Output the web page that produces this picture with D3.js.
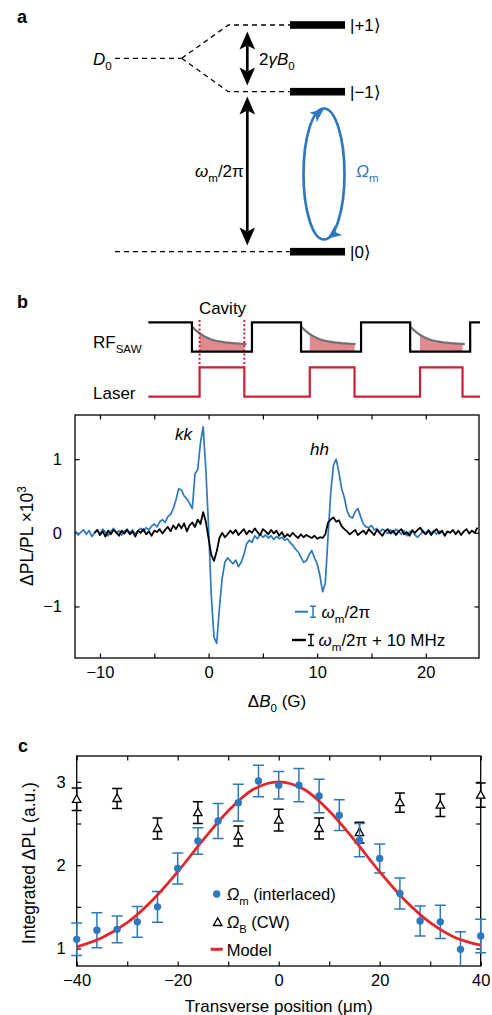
<!DOCTYPE html>
<html><head><meta charset="utf-8">
<script src="https://cdn.jsdelivr.net/npm/d3@7"></script>
<style>body{margin:0;background:#fff} svg{display:block;font-family:"Liberation Sans",Arial,Helvetica,sans-serif}</style>
</head><body>
<svg id="fig" width="492" height="1015"></svg>
<script>
// ================= DATA =================
// Panel b: ΔPL/PL ×10^3 vs ΔB0 (G), sampled on a regular field grid
const bBlueStart = -12.25, bBlueStep = 0.25;
const bBlue = [
 0.02,-0.03,0.01,0.04, -0.02,0.03,-0.05,0.00, 0.04,-0.02,0.05,0.01, -0.04,0.02,0.06,-0.01,
 0.03,-0.03,0.02,0.05, 0.00,0.04,-0.02,0.03, 0.06,0.02,0.07,0.04, 0.09,0.12,0.08,0.15,
 0.18,0.14,0.22,0.25, 0.33,0.45,0.60,0.58, 0.50,0.46,0.40,0.33, 0.80,0.86,1.22,1.44,
 0.85,0.08,-0.85,-1.42, -1.50,-1.02,-0.62,-0.40, -0.34,-0.38,-0.42,-0.37, -0.46,-0.40,-0.30,-0.15,
 -0.10,-0.13,-0.04,-0.08, -0.02,-0.06,-0.03,-0.07, -0.04,-0.09,-0.05,-0.08, -0.06,-0.10,-0.08,-0.13,
 -0.17,-0.22,-0.26,-0.33, -0.40,-0.38,-0.30,-0.24, -0.34,-0.42,-0.58,-0.80, -0.68,-0.05,0.55,0.92,
 1.00,0.82,0.60,0.48, 0.30,0.22,0.20,0.29, 0.33,0.22,0.12,0.08, 0.07,0.10,0.04,0.06,
 0.01,0.05,0.03,-0.01, 0.04,0.00,0.05,0.02, -0.02,0.03,-0.04,0.01, 0.04,-0.03,-0.06,-0.02,
 0.03,-0.01,0.04,0.00, 0.03,-0.02,0.02,0.01
];
const bBlackStart = -10.5, bBlackStep = 0.25;
const bBlack = [
 0.00,0.04,-0.03,0.02, -0.05,0.03,-0.02,0.04, 0.01,-0.04,0.03,-0.01, 0.04,-0.02,0.02,-0.05,
 0.03,0.00,0.05,-0.02, 0.02,-0.04,0.03,0.01, 0.05,-0.01,0.04,0.08, 0.02,0.10,0.05,0.12,
 0.06,0.13,0.02,0.10, 0.14,0.08,0.18,0.12, 0.28,0.15,-0.08,-0.30, -0.38,-0.25,-0.07,0.00,
 -0.06,-0.02,0.03,-0.01, 0.04,-0.03,0.01,0.05, -0.02,0.03,0.00,0.06, 0.01,-0.03,0.05,0.02,
 -0.02,0.04,-0.01,0.03, -0.04,0.01,-0.06,-0.02, -0.05,0.00,-0.04,-0.07, -0.02,-0.06,-0.03,-0.05,
 -0.07,-0.04,-0.08,-0.06, -0.07,-0.02,0.14,0.18, 0.21,0.15,0.17,0.09, 0.05,0.02,-0.02,0.01,
 0.04,-0.03,0.00,0.03, -0.02,0.05,0.01,-0.03, 0.04,0.00,-0.04,0.02, 0.05,-0.01,0.03,-0.03,
 0.02,0.05,-0.02,0.01, -0.04,0.03,0.00,0.04, 0.07,0.01,-0.02,0.03, -0.03,0.02,0.05,-0.01,
 0.03,-0.04,0.02,0.00, 0.04,-0.02,0.03,-0.03, 0.02,0.05,-0.01,0.03, 0.00,0.07
];
const bXTicks = [-10,-5,0,5,10,15,20];
const bYTicks = [-1,0,1];

// Panel c: integrated ΔPL (a.u.) vs transverse position (µm)
const cPos      = [-40,-36,-32,-28,-24,-20,-16,-12,-8,-4,0,4,8,12,16,20,24,28,32,36,40];
const cOmegaM   = [1.11,1.22,1.23,1.32,1.50,1.96,2.29,2.53,2.75,3.01,2.96,2.96,2.83,2.60,2.30,2.08,1.66,1.33,1.32,0.99,1.15];
const cOmegaMEr = [0.195,0.21,0.16,0.185,0.185,0.185,0.16,0.21,0.22,0.19,0.165,0.20,0.20,0.185,0.20,0.175,0.185,0.18,0.20,0.21,0.20];
const cTriPos   = [-40,-32,-24,-16,-8,0,8,16,24,32,40];
const cOmegaB   = [2.79,2.80,2.44,2.63,2.35,2.54,2.44,2.39,2.75,2.72,2.84];
const cOmegaBEr = [0.135,0.12,0.125,0.13,0.12,0.13,0.125,0.125,0.115,0.135,0.145];
const cModelPos = [-40,-35,-30,-25,-20,-15,-10,-5,0,5,10,15,20,25,30,35,40];
const cModel    = [1.02,1.13,1.31,1.58,1.92,2.30,2.65,2.91,3.00,2.91,2.65,2.30,1.92,1.58,1.31,1.13,1.04];
const cXTicks = [-40,-30,-20,-10,0,10,20,30,40];
const cYTicks = [1,1.5,2,2.5,3];

// Panel b timing schematic (arbitrary time units)
const rfTimes   = [0,4,9.5,14,19.5,24,29.5,30.4];
const rfLevels  = [1,0,1,0,1,0,1,1];
const lsTimes   = [0,4.7,8.8,14.8,18.9,24.9,28.8,30.4];
const lsLevels  = [0,1,0,1,0,1,0,0];
const cavityDrops = [4,14,24];
const decayStep = 0.5;
const cavityDecay = [0.86,0.68,0.55,0.46,0.39,0.35,0.32,0.30,0.28,0.27,0.26];
const laserWindows = [[4.7,8.8],[14.8,18.9],[24.9,28.8]];

// ================= DRAW =================
const svg = d3.select("#fig");
const BLUE = "#2e78bd", RED = "#cc1f36", MRED = "#e3262b", PINK = "#e0898f", GRAY = "#717171";
svg.append("rect").attr("width",492).attr("height",1015).attr("fill","#fff");

function rich(sel, parts, size){
  let shift = 0;
  parts.forEach(p=>{
    const ts = sel.append("tspan").text(p.t);
    const target = p.sub ? size*0.32 : (p.sup ? -size*0.4 : 0);
    if (target !== shift) { ts.attr("dy", target - shift); shift = target; }
    if (p.it) ts.attr("font-style","italic");
    if (p.sub || p.sup) ts.attr("font-size", size*0.68);
  });
  return sel;
}
function label(x,y,size,parts,opts={}){
  const t = svg.append("text").attr("x",x).attr("y",y).attr("font-size",size).attr("fill",opts.fill||"#000");
  if (opts.anchor) t.attr("text-anchor",opts.anchor);
  if (opts.weight) t.attr("font-weight",opts.weight);
  if (opts.transform) t.attr("transform",opts.transform).attr("x",0).attr("y",0);
  return rich(t, parts, size);
}

// ---------- Panel a ----------
label(17,23,18,[{t:"a"}],{weight:"bold"});
const dash = svg.append("g").attr("fill","none").attr("stroke","#000").attr("stroke-width",1.3).attr("stroke-dasharray","5,4");
dash.append("path").attr("d","M115,58.3H181.7");
dash.append("path").attr("d","M181.7,58.3L228.3,25H290");
dash.append("path").attr("d","M181.7,58.3L228.3,91.7H290");
dash.append("path").attr("d","M115,251.7H290");
[25,91.7,251.7].forEach(y=>svg.append("rect").attr("x",290).attr("y",y-3.8).attr("width",55).attr("height",7.6).attr("fill","#000"));
label(350,31,17,[{t:"|+1⟩"}]);
label(350,97.5,17,[{t:"|−1⟩"}]);
label(350,257.5,17,[{t:"|0⟩"}]);
label(93,64.5,17,[{t:"D",it:true},{t:"0",sub:true}]);
label(259,65,17,[{t:"2"},{t:"γ",it:true},{t:"B",it:true},{t:"0",sub:true}]);
label(195,176.5,17,[{t:"ω",it:true},{t:"m",sub:true},{t:"/2π"}]);
label(356,176.5,17,[{t:"Ω",it:true},{t:"m",sub:true}],{fill:BLUE});

function dArrow(x,y1,y2){
  const hl=18, hw=7.8, n=4;
  svg.append("line").attr("x1",x).attr("x2",x).attr("y1",y1+hl-n).attr("y2",y2-hl+n).attr("stroke","#000").attr("stroke-width",2.7);
  svg.append("path").attr("d",`M${x},${y1}L${x-hw},${y1+hl}L${x},${y1+hl-n}L${x+hw},${y1+hl}Z`).attr("fill","#000");
  svg.append("path").attr("d",`M${x},${y2}L${x-hw},${y2-hl}L${x},${y2-hl+n}L${x+hw},${y2-hl}Z`).attr("fill","#000");
}
dArrow(247.3,31.5,85.5);
dArrow(247.3,96.5,245.5);
svg.append("ellipse").attr("cx",324).attr("cy",174).attr("rx",20.5).attr("ry",65.5).attr("fill","none").attr("stroke",BLUE).attr("stroke-width",2.7);
function head(x,y,ang,col){
  svg.append("path").attr("d","M0,0L-14,-6L-10.5,0L-14,6Z").attr("fill",col)
    .attr("transform",`translate(${x},${y}) rotate(${ang})`);
}
head(324,108.8,-38,BLUE);
head(327.5,238.8,142,BLUE);

// ---------- Panel b: timing ----------
label(17,308,18,[{t:"b"}],{weight:"bold"});
const ts = d3.scaleLinear([0,30.4],[148.3,480]);
const rfY = d3.scaleLinear([0,1],[351.7,322.3]);
const lsY = d3.scaleLinear([0,1],[396.7,367.3]);
const clipW = svg.append("defs");
laserWindows.forEach((w,i)=>{
  clipW.append("clipPath").attr("id","lw"+i).append("rect")
    .attr("x",ts(w[0])).attr("width",ts(w[1])-ts(w[0])).attr("y",300).attr("height",60);
});
cavityDrops.forEach((t0,i)=>{
  const pts = cavityDecay.map((v,k)=>[t0+k*decayStep, v]);
  svg.append("path").datum(pts).attr("clip-path",`url(#lw${i})`).attr("fill",PINK)
    .attr("d",d3.area().x(d=>ts(d[0])).y0(rfY(0)).y1(d=>rfY(d[1])).curve(d3.curveMonotoneX));
  svg.append("path").datum(pts).attr("fill","none").attr("stroke",GRAY).attr("stroke-width",2.2)
    .attr("d",d3.line().x(d=>ts(d[0])).y(d=>rfY(d[1])).curve(d3.curveMonotoneX));
});
laserWindows.slice(0,1).forEach(w=>{
  [w[0],w[1]].forEach(t=>svg.append("line").attr("x1",ts(t)).attr("x2",ts(t)).attr("y1",320).attr("y2",lsY(1))
    .attr("stroke",RED).attr("stroke-width",2).attr("stroke-dasharray","2,2.2"));
});
svg.append("path").datum(rfTimes.map((t,i)=>[t,rfLevels[i]])).attr("fill","none").attr("stroke","#000").attr("stroke-width",2.2)
  .attr("d",d3.line().x(d=>ts(d[0])).y(d=>rfY(d[1])).curve(d3.curveStepAfter));
svg.append("path").datum(lsTimes.map((t,i)=>[t,lsLevels[i]])).attr("fill","none").attr("stroke",RED).attr("stroke-width",2.2)
  .attr("d",d3.line().x(d=>ts(d[0])).y(d=>lsY(d[1])).curve(d3.curveStepAfter));
label(93,348,17,[{t:"RF"},{t:"SAW",sub:true}]);
label(93,399,17,[{t:"Laser"}]);
label(222.5,314,17,[{t:"Cavity"}],{anchor:"middle"});

// ---------- Panel b: spectrum ----------
const bx = d3.scaleLinear([-12.3,24.9],[75,479]);
const by = d3.scaleLinear([-1.7,1.6],[658,415]);
svg.append("defs").append("clipPath").attr("id","clipB").append("rect").attr("x",75).attr("y",415).attr("width",404).attr("height",243);
const fmt = d3.format("d");
function axisStyle(g,size){ g.select(".domain").remove(); g.selectAll(".tick line").attr("stroke","#000").attr("stroke-width",1.2);
  g.selectAll(".tick text").attr("font-size",size).attr("fill","#000").attr("font-family",null); }
svg.append("g").attr("transform","translate(0,658)").call(d3.axisBottom(bx).tickValues(bXTicks).tickSizeInner(-4.5).tickSizeOuter(0).tickPadding(8.6).tickFormat(d=>d%10===0?fmt(d):"")).call(g=>axisStyle(g,16.5));
svg.append("g").attr("transform","translate(0,415)").call(d3.axisTop(bx).tickValues(bXTicks).tickSizeInner(-4.5).tickSizeOuter(0).tickFormat("")).call(g=>axisStyle(g,16.5));
svg.append("g").attr("transform","translate(75,0)").call(d3.axisLeft(by).tickValues(bYTicks).tickSizeInner(-4.5).tickSizeOuter(0).tickPadding(13).tickFormat(fmt)).call(g=>axisStyle(g,16.5));
svg.append("g").attr("transform","translate(479,0)").call(d3.axisRight(by).tickValues(bYTicks).tickSizeInner(-4.5).tickSizeOuter(0).tickFormat("")).call(g=>axisStyle(g,16.5));
const bLine = (start,step)=>d3.line().x((d,i)=>bx(start+i*step)).y(d=>by(d));
const pb = svg.append("g").attr("clip-path","url(#clipB)");
pb.append("path").datum(bBlue).attr("fill","none").attr("stroke",BLUE).attr("stroke-width",1.7).attr("stroke-linejoin","round").attr("d",bLine(bBlueStart,bBlueStep));
pb.append("path").datum(bBlack).attr("fill","none").attr("stroke","#000").attr("stroke-width",1.8).attr("stroke-linejoin","round").attr("d",bLine(bBlackStart,bBlackStep));
svg.append("rect").attr("x",75).attr("y",415).attr("width",404).attr("height",243).attr("fill","none").attr("stroke","#000").attr("stroke-width",1.3);
label(175,440,17,[{t:"kk",it:true}]);
label(310,455,17,[{t:"hh",it:true}]);
// legend
function legI(x,y,col){
  svg.append("path").attr("d",`M${x},${y-5.5}V${y+5.5}M${x-3},${y-5.5}H${x+3}M${x-3},${y+5.5}H${x+3}`).attr("stroke",col).attr("stroke-width",1.5).attr("fill","none");
}
svg.append("line").attr("x1",295).attr("x2",308).attr("y1",611.7).attr("y2",611.7).attr("stroke",BLUE).attr("stroke-width",2);
legI(313,611.7,BLUE);
label(321.5,617.5,17,[{t:"ω",it:true},{t:"m",sub:true},{t:"/2π"}]);
svg.append("line").attr("x1",292).attr("x2",306).attr("y1",640).attr("y2",640).attr("stroke","#000").attr("stroke-width",2.4);
legI(311,640,"#000");
label(318.5,646,17,[{t:"ω",it:true},{t:"m",sub:true},{t:"/2π + 10 MHz"}]);
label(277,706.5,17,[{t:"Δ"},{t:"B",it:true},{t:"0",sub:true},{t:" (G)"}],{anchor:"middle"});
label(0,0,17.5,[{t:"ΔPL/PL ×10"},{t:"3",sup:true}],{anchor:"middle",transform:"translate(33,536) rotate(-90)"});

// ---------- Panel c ----------
label(18,751.5,18,[{t:"c"}],{weight:"bold"});
const cx = d3.scaleLinear([-40,40],[76.7,480.7]);
const cy = d3.scaleLinear([0.79,3.31],[966,756]);
svg.append("defs").append("clipPath").attr("id","clipC").append("rect").attr("x",70).attr("y",756).attr("width",420).attr("height",210);
svg.append("g").attr("transform","translate(0,966)").call(d3.axisBottom(cx).tickValues(cXTicks).tickSizeInner(-4.5).tickSizeOuter(0).tickPadding(8.3).tickFormat(d=>d%20===0?fmt(d):"")).call(g=>axisStyle(g,16.5));
svg.append("g").attr("transform","translate(0,756)").call(d3.axisTop(cx).tickValues(cXTicks).tickSizeInner(-4.5).tickSizeOuter(0).tickFormat("")).call(g=>axisStyle(g,16.5));
svg.append("g").attr("transform","translate(76.7,0)").call(d3.axisLeft(cy).tickValues(cYTicks).tickSizeInner(-4.5).tickSizeOuter(0).tickPadding(11).tickFormat(d=>Number.isInteger(d)?fmt(d):"")).call(g=>axisStyle(g,16.5));
svg.append("g").attr("transform","translate(480.7,0)").call(d3.axisRight(cy).tickValues(cYTicks).tickSizeInner(-4.5).tickSizeOuter(0).tickFormat("")).call(g=>axisStyle(g,16.5));
svg.append("rect").attr("x",76.7).attr("y",756).attr("width",404).attr("height",210).attr("fill","none").attr("stroke","#000").attr("stroke-width",1.3);
const pc = svg.append("g").attr("clip-path","url(#clipC)");
function ebar(g,x,y,e,col,cw){
  g.append("path").attr("d",`M${cx(x)},${cy(y-e)}V${cy(y+e)}M${cx(x)-cw},${cy(y-e)}H${cx(x)+cw}M${cx(x)-cw},${cy(y+e)}H${cx(x)+cw}`)
    .attr("stroke",col).attr("stroke-width",1.5).attr("fill","none");
}
cTriPos.forEach((p,i)=>ebar(pc,p,cOmegaB[i],cOmegaBEr[i],"#000",5));
const tri = "M0,-4.6L4.2,3L-4.2,3Z";
cTriPos.forEach((p,i)=>pc.append("path").attr("d",tri).attr("transform",`translate(${cx(p)},${cy(cOmegaB[i])})`).attr("fill","#fff").attr("stroke","#000").attr("stroke-width",1.3));
cPos.forEach((p,i)=>ebar(pc,p,cOmegaM[i],cOmegaMEr[i],BLUE,5.5));
pc.append("path").datum(cModelPos.map((p,i)=>[p,cModel[i]])).attr("fill","none").attr("stroke",MRED).attr("stroke-width",2.8)
  .attr("d",d3.line().x(d=>cx(d[0])).y(d=>cy(d[1])).curve(d3.curveCatmullRom));
cPos.forEach((p,i)=>pc.append("circle").attr("cx",cx(p)).attr("cy",cy(cOmegaM[i])).attr("r",3.7).attr("fill",BLUE));
// legend
svg.append("circle").attr("cx",216.7).attr("cy",894).attr("r",3.7).attr("fill",BLUE);
svg.append("path").attr("d",tri).attr("transform","translate(217.7,922.5)").attr("fill","#fff").attr("stroke","#000").attr("stroke-width",1.3);
svg.append("line").attr("x1",210.7).attr("x2",222.7).attr("y1",949.3).attr("y2",949.3).attr("stroke",MRED).attr("stroke-width",3);
label(226.7,900,16.5,[{t:"Ω",it:true},{t:"m",sub:true},{t:" (interlaced)"}]);
label(226.7,928,16.5,[{t:"Ω",it:true},{t:"B",sub:true},{t:" (CW)"}]);
label(226.7,955.5,16.5,[{t:"Model"}]);
label(278.7,1012,17,[{t:"Transverse position (μm)"}],{anchor:"middle"});
label(0,0,17.5,[{t:"Integrated ΔPL (a.u.)"}],{anchor:"middle",transform:"translate(34.5,863) rotate(-90)"});
</script>
</body></html>
